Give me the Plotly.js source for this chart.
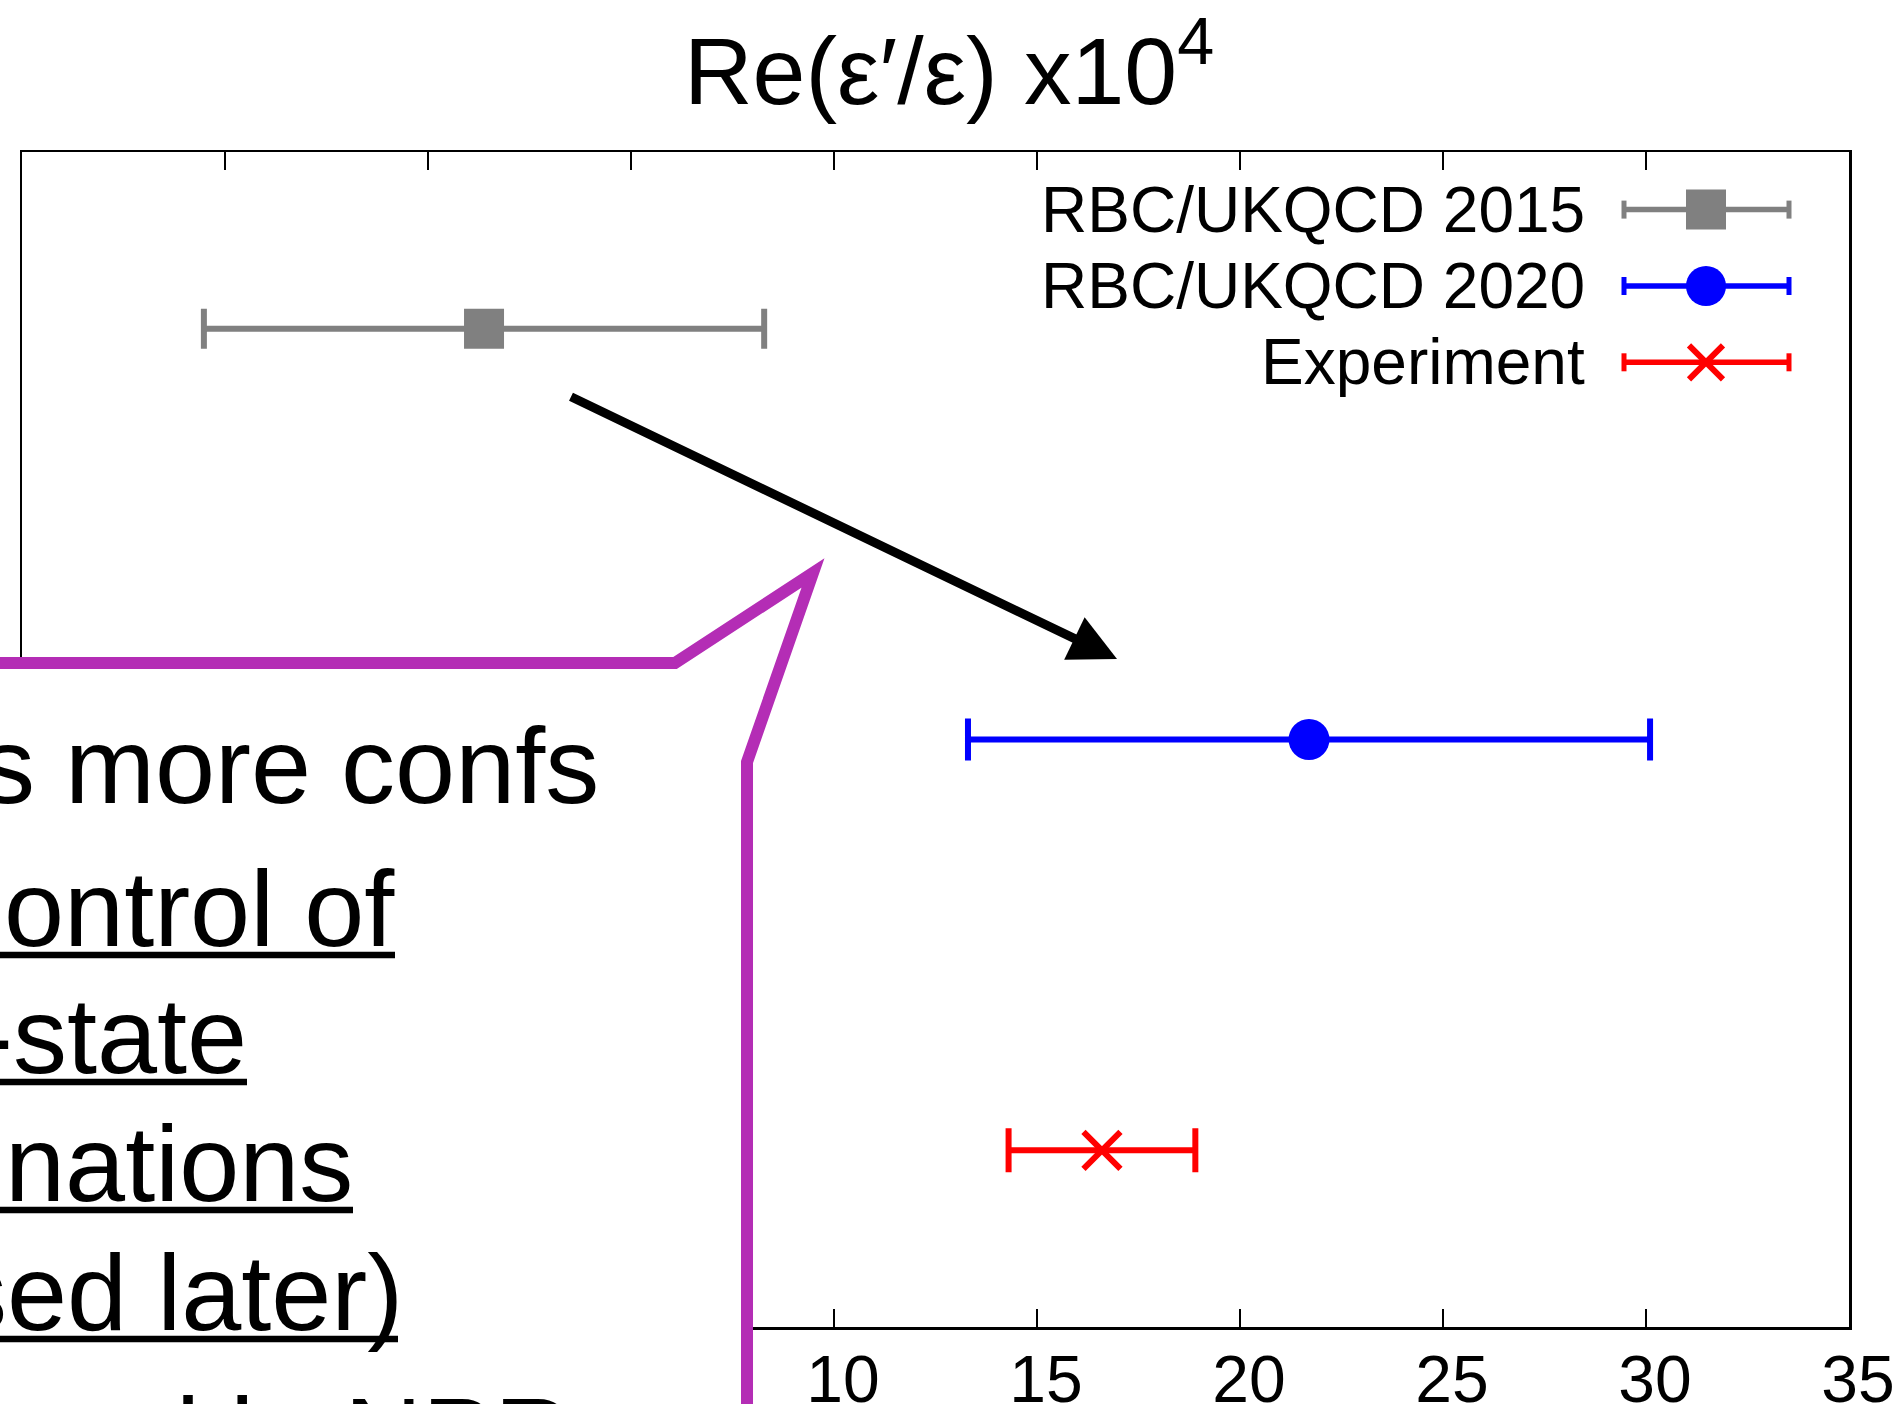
<!DOCTYPE html>
<html>
<head>
<meta charset="utf-8">
<script src="https://cdn.plot.ly/plotly-3.0.1.min.js"></script>
<style>
html, body { margin: 0; padding: 0; background: #ffffff; overflow: hidden; }
#chart { width: 1900px; height: 1404px; }
</style>
</head>
<body>
<div id="chart"></div>
<script>
// ---------------- data ----------------
const seriesNames = ["RBC/UKQCD 2015", "RBC/UKQCD 2020", "Experiment"];
const centralValues = [1.38, 21.7, 16.6];
const totalErrors = [6.9, 8.4, 2.3];
const xTickValues = [-10, -5, 0, 5, 10, 15, 20, 25, 30, 35];
const xTickLabels = ["", "", "", "", "10", "15", "20", "25", "30", "35"];
const titleText = "Re(ε′/ε) x10<sup>4</sup>";
const calloutLines = ["s more confs", "ontrol of", "-state", "nations", "sed later)", "lly used in NPR"];
const calloutUnderlined = [false, true, true, true, true, false];

// ---------------- styling / layout constants ----------------
const FONT = "Liberation Sans, Arial, Helvetica, sans-serif";
const colors = ["#808080", "#0000ff", "#ff0000"];
const symbols = ["square", "circle", "x-thin"];
const markerSizes = [40, 41, 37];
const capHalfWidth = [20, 21, 22];

// plot area in page pixels
const L = 22, R = 1849, T = 152, B = 1327;
const W = R - L, H = B - T;
const px = X => (X - L) / W;
const py = Y => (B - Y) / H;

const traces = seriesNames.map((name, i) => ({
  type: "scatter",
  mode: "markers",
  name: name,
  x: [centralValues[i]],
  y: [name],
  error_x: { type: "data", array: [totalErrors[i]], visible: true, color: colors[i], thickness: 6, width: capHalfWidth[i] },
  marker: {
    symbol: symbols[i], size: markerSizes[i], color: colors[i],
    line: { color: colors[i], width: symbols[i] === "x-thin" ? 6 : 0 }
  },
  showlegend: false,
  hoverinfo: "skip"
}));

// ---- custom legend (text left of key, gnuplot style) ----
const legendRowY = [209.6, 286, 362.3];
const legendTextRight = 1587;
const keyX0 = 1624, keyX1 = 1789, keyMid = 1706, keyCap = 9;
const shapes = [];
const annotations = [];

seriesNames.forEach((name, i) => {
  const yc = legendRowY[i];
  shapes.push({ type: "line", xref: "paper", yref: "paper", x0: px(keyX0), x1: px(keyX1), y0: py(yc), y1: py(yc), line: { color: colors[i], width: 5.5 } });
  shapes.push({ type: "line", xref: "paper", yref: "paper", x0: px(keyX0), x1: px(keyX0), y0: py(yc - keyCap), y1: py(yc + keyCap), line: { color: colors[i], width: 5 } });
  shapes.push({ type: "line", xref: "paper", yref: "paper", x0: px(keyX1), x1: px(keyX1), y0: py(yc - keyCap), y1: py(yc + keyCap), line: { color: colors[i], width: 5 } });
  const base = { xref: "paper", yref: "paper", xsizemode: "pixel", ysizemode: "pixel", xanchor: px(keyMid), yanchor: py(yc) };
  if (symbols[i] === "square") {
    shapes.push(Object.assign({ type: "rect", x0: -20, x1: 20, y0: -20, y1: 20, fillcolor: colors[i], line: { width: 0 } }, base));
  } else if (symbols[i] === "circle") {
    shapes.push(Object.assign({ type: "circle", x0: -20, x1: 20, y0: -20, y1: 20, fillcolor: colors[i], line: { width: 0 } }, base));
  } else {
    shapes.push(Object.assign({ type: "path", path: "M-17,-17L17,17M-17,17L17,-17", line: { color: colors[i], width: 6 } }, base));
  }
  annotations.push({
    xref: "paper", yref: "paper", x: px(legendTextRight), y: py(yc), xanchor: "right", yanchor: "middle",
    text: name, showarrow: false, font: { family: FONT, size: 64, color: "#000" }
  });
});

// ---- callout box (purple) ----
const cp = [[-40, 663], [675, 663], [813, 573], [747, 762], [747, 1440], [-40, 1440]];
const calloutPath = "M" + cp.map(p => px(p[0]).toFixed(5) + "," + py(p[1]).toFixed(5)).join("L") + "Z";
shapes.push({ type: "path", xref: "paper", yref: "paper", path: calloutPath, fillcolor: "#ffffff", line: { color: "#b42db5", width: 12 }, layer: "above" });

// callout text lines
const calloutBaselines = [803, 946, 1073, 1201, 1330, 1473];
const calloutRightEnds = [601, 397, 249, 355, 405, 574];
const underlineEnds = [0, 395, 247, 353, 398, 0];
const calloutFont = 108;
calloutLines.forEach((t, i) => {
  annotations.push({
    xref: "paper", yref: "paper",
    x: px(calloutRightEnds[i]), y: py(calloutBaselines[i] - 0.3465 * calloutFont),
    xanchor: "right", yanchor: "middle", text: t, showarrow: false,
    font: { family: FONT, size: calloutFont, color: "#000" }
  });
  if (calloutUnderlined[i]) {
    const uy = calloutBaselines[i] + 9;
    shapes.push({ type: "line", xref: "paper", yref: "paper", x0: px(-10), x1: px(underlineEnds[i]), y0: py(uy), y1: py(uy), line: { color: "#000", width: 6.5 }, layer: "above" });
  }
});

// ---- arrow from old to new result ----
annotations.push({
  xref: "paper", yref: "paper", x: px(1117), y: py(659),
  ax: 569.5 - 1117, ay: 396 - 659, axref: "pixel", ayref: "pixel",
  text: "", showarrow: true, arrowhead: 2, arrowsize: 1.05, arrowwidth: 9, arrowcolor: "#000", standoff: 0
});

const layout = {
  width: 1900, height: 1404,
  margin: { l: L, r: 1900 - R, t: T, b: 1404 - B, pad: 0 },
  paper_bgcolor: "#ffffff", plot_bgcolor: "#ffffff",
  showlegend: false,
  font: { family: FONT, color: "#000" },
  title: {
    text: titleText, font: { family: FONT, size: 95, color: "#000" },
    xref: "container", x: 684 / 1900, xanchor: "left",
    yref: "container", y: 1 - 104 / 1404, yanchor: "bottom"
  },
  xaxis: {
    range: [-10, 35], tickmode: "array", tickvals: xTickValues, ticktext: xTickLabels,
    ticks: "inside", ticklen: 18, tickwidth: 2, tickcolor: "#000",
    showline: true, linewidth: 2.5, linecolor: "#000", mirror: "ticks",
    showgrid: false, zeroline: false, automargin: false, ticklabelstandoff: -7, ticklabelshift: 9,
    tickfont: { family: FONT, size: 66, color: "#000" }
  },
  yaxis: {
    type: "category", categoryorder: "array", categoryarray: seriesNames.slice().reverse(),
    range: [-0.43, 2.43], showticklabels: false, ticks: "",
    showline: true, linewidth: 2.5, linecolor: "#000", mirror: true,
    showgrid: false, zeroline: false, automargin: false
  },
  shapes: shapes,
  annotations: annotations
};

Plotly.newPlot("chart", traces, layout, { staticPlot: true, displayModeBar: false });
</script>
</body>
</html>
